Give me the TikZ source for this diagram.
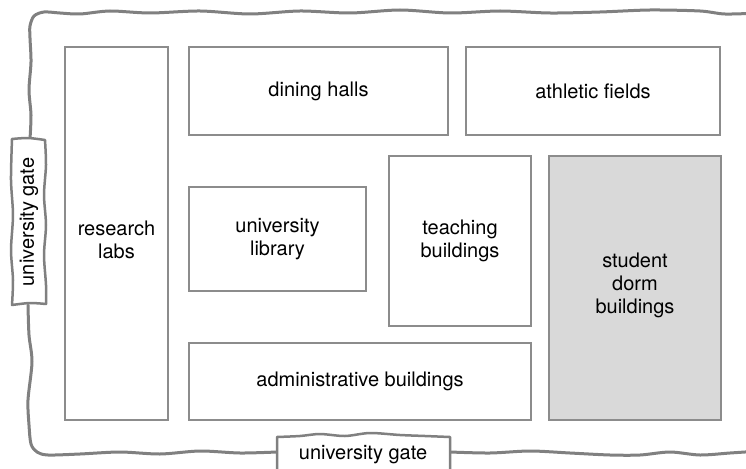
\documentclass[tikz,border=0pt]{standalone}
\usepackage{fontspec}
\setmainfont{TeX Gyre Heros}
\definecolor{edgegray}{RGB}{140,140,140}
\definecolor{wallgray}{RGB}{128,128,128}
\definecolor{dormfill}{RGB}{217,217,217}
\begin{document}
\begin{tikzpicture}[x=1pt,y=-1pt,
  box/.style={draw=edgegray, line width=2pt, align=center, inner sep=0pt,
    font=\fontsize{20}{23}\selectfont},
  txt/.style={align=center, inner sep=0pt, font=\fontsize{20}{23}\selectfont},
  wall/.style={draw=wallgray, line width=3pt, line cap=round, line join=round},
  gateline/.style={draw=wallgray, line width=2.5pt, line cap=round, line join=round, fill=white}]
\useasboundingbox (0,0) rectangle (746,468);

% outer wavy wall
\draw[wall] plot[smooth] coordinates {(30,139) (31,115) (29,90) (31,62) (30,38) (30,26) (34,16) (44,12) (60,13) (80,14) (110,11) (150,13) (200,11) (250,14) (300,11) (350,13) (400,10) (450,13) (500,11) (550,13) (600,12) (650,10) (700,11) (725,14) (760,13)};
\draw[wall] plot[smooth] coordinates {(450,452) (490,453) (530,451) (570,453) (610,455) (640,455) (670,452) (700,455) (730,453) (760,451)};
\draw[wall] plot[smooth] coordinates {(277,452) (240,453) (200,451) (160,454) (120,452) (80,454) (48,455) (37,452) (31,444) (29,425) (28,400) (32,362) (29,335) (28,305)};

% gate outlines
\draw[gateline] plot[smooth] coordinates {(12,139) (28,138) (45,140)}
  -- plot[smooth] coordinates {(45,140) (46,165) (44,195) (46,225) (44,255) (46,285) (46,304)}
  -- plot[smooth] coordinates {(46,304) (30,303) (12,305)}
  -- plot[smooth] coordinates {(12,305) (13,280) (11,250) (13,215) (11,180) (12,139)} -- cycle;
\draw[gateline] (277,480) -- (277,437)
  -- plot[smooth] coordinates {(277,437) (300,436) (320,434) (345,436) (370,433) (400,435) (425,436) (450,437)}
  -- (450,480) -- cycle;

% buildings
\node[box, minimum width=103pt, minimum height=373pt] (labs) at (116.5,233.5) {};
\node[txt] (labstext) at (116.5,240) {research\\labs};
\node[box, minimum width=259pt, minimum height=88pt] (dining) at (318.5,91) {dining halls};
\node[box, minimum width=254pt, minimum height=88pt] (athletic) at (593,91) {athletic fields};
\node[box, minimum width=177pt, minimum height=104pt] (library) at (277.5,239) {university\\library};
\node[box, minimum width=142pt, minimum height=170pt] (teaching) at (460,241) {teaching\\buildings};
\node[box, fill=dormfill, minimum width=172pt, minimum height=264pt] (dorm) at (635,288) {};
\node[txt] (dormtext) at (635,285) {student\\dorm\\buildings};
\node[box, minimum width=342pt, minimum height=77pt] (admin) at (360,381.5) {administrative buildings};

% gates text
\node[txt, rotate=90] (gatew) at (29,222) {university gate};
\node[txt] (gates) at (363,455) {university gate};
\end{tikzpicture}
\end{document}
